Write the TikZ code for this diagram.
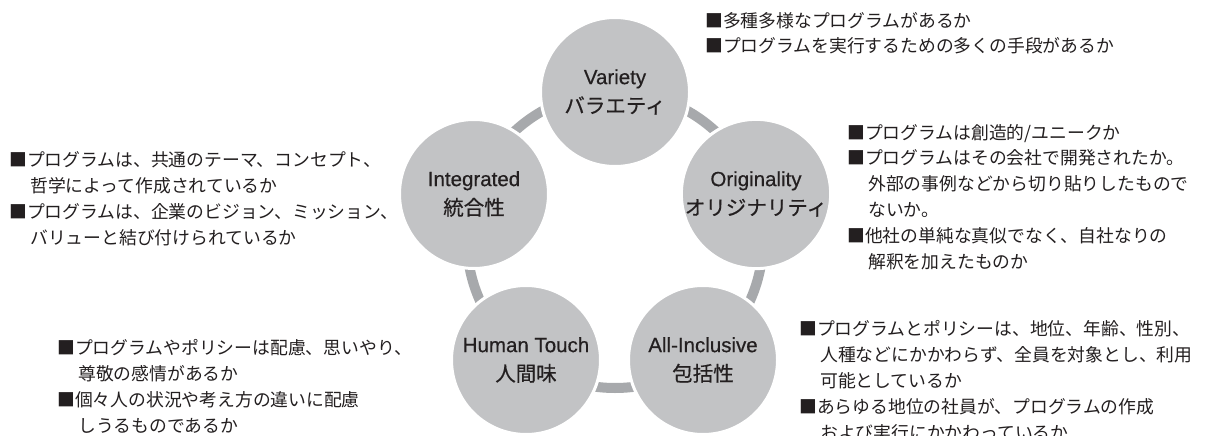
\documentclass[tikz,border=0pt]{standalone}
\usepackage{fontspec}
\setmainfont{Liberation Sans}
\newfontfamily\jp{Noto Sans CJK JP}
\newfontfamily\lab[FakeBold=0.5]{Liberation Sans}
\newfontfamily\labjp[FakeBold=0.5]{Noto Sans CJK JP}
\definecolor{circfill}{HTML}{C2C3C5}
\definecolor{ringcol}{HTML}{A7A9AC}
\definecolor{txt}{HTML}{231F20}
\begin{document}
\begin{tikzpicture}[x=1pt,y=-1pt,
  pillar/.style={circle,fill=circfill,draw=white,line width=3pt,minimum size=149pt,inner sep=0pt,
    align=center,font=\lab\fontsize{20.5}{29}\selectfont,text=txt},
  ring/.style={draw=ringcol,line width=10pt},
  note/.style={anchor=base west,align=left,inner sep=0pt,text=txt,font=\jp\fontsize{17.8}{25.8}\selectfont}]
\useasboundingbox[fill=white] (0,0) rectangle (1224,436);
\coordinate (c) at (615,240);
\draw[ring] (c) circle (148);
\node[pillar] (var) at (615,92) {Variety\\{\labjp バラエティ}};
\node[pillar] (int) at (474,194) {Integrated\\{\labjp 統合性}};
\node[pillar] (ori) at (756,194) {Originality\\{\labjp オリジナリティ}};
\node[pillar] (hum) at (526,360) {Human Touch\\{\labjp 人間味}};
\node[pillar] (all) at (703,360) {All-Inclusive\\{\labjp 包括性}};
\node[note] (tvar) at (705,53) {■多種多様なプログラムがあるか\\■プログラムを実行するための多くの手段があるか};
\node[note] (tori) at (847,268) {■プログラムは創造的/ユニークか\\■プログラムはその会社で開発されたか。\\\hspace*{21pt}外部の事例などから切り貼りしたもので\\\hspace*{21pt}ないか。\\■他社の単純な真似でなく、自社なりの\\\hspace*{21pt}解釈を加えたものか};
\node[note] (tint) at (9,244) {■プログラムは、共通のテーマ、コンセプト、\\\hspace*{21pt}哲学によって作成されているか\\■プログラムは、企業のビジョン、ミッション、\\\hspace*{21pt}バリューと結び付けられているか};
\node[note] (thum) at (57,432) {■プログラムやポリシーは配慮、思いやり、\\\hspace*{21pt}尊敬の感情があるか\\■個々人の状況や考え方の違いに配慮\\\hspace*{21pt}しうるものであるか};
\node[note] (tall) at (799,439) {■プログラムとポリシーは、地位、年齢、性別、\\\hspace*{21pt}人種などにかかわらず、全員を対象とし、利用\\\hspace*{21pt}可能としているか\\■あらゆる地位の社員が、プログラムの作成\\\hspace*{21pt}および実行にかかわっているか};
\end{tikzpicture}
\end{document}
